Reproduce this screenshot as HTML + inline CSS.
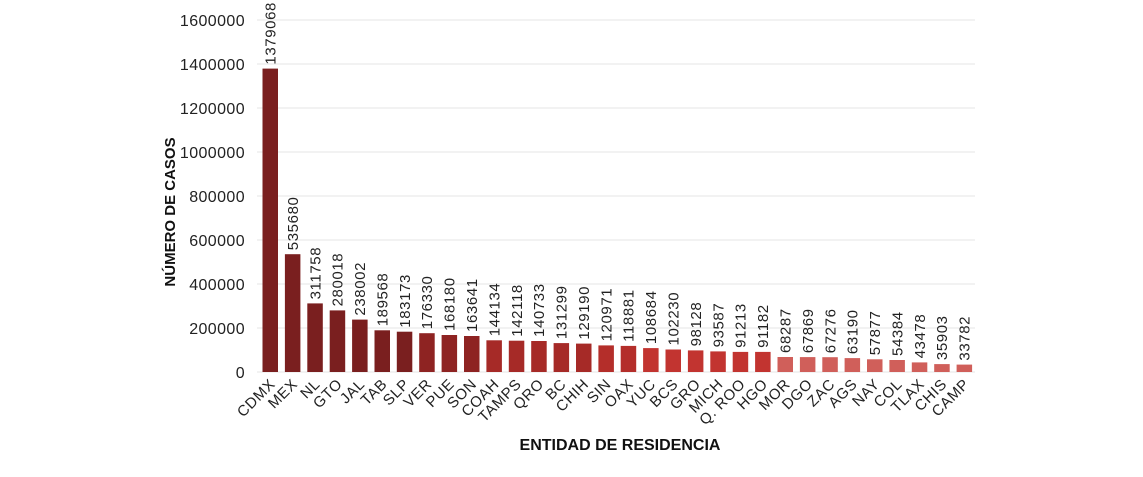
<!DOCTYPE html><html><head><style>body{margin:0;background:#fff}.yt text{letter-spacing:0.4px}.vl text{letter-spacing:0.6px}</style></head><body>
<svg width="1143" height="472" xmlns="http://www.w3.org/2000/svg" font-family="Liberation Sans, sans-serif">
<g stroke="#e6e6e6">
<line x1="257" x2="975" y1="372" y2="372"/><line x1="257" x2="975" y1="328" y2="328"/><line x1="257" x2="975" y1="284" y2="284"/><line x1="257" x2="975" y1="240" y2="240"/><line x1="257" x2="975" y1="196" y2="196"/><line x1="257" x2="975" y1="152" y2="152"/><line x1="257" x2="975" y1="108" y2="108"/><line x1="257" x2="975" y1="64" y2="64"/><line x1="257" x2="975" y1="20" y2="20"/>
</g>
<g class="yt" font-size="16" fill="#222" text-anchor="end">
<text x="245" y="378">0</text><text x="245" y="334">200000</text><text x="245" y="290">400000</text><text x="245" y="246">600000</text><text x="245" y="202">800000</text><text x="245" y="158">1000000</text><text x="245" y="114">1200000</text><text x="245" y="70">1400000</text><text x="245" y="26">1600000</text>
</g>
<g>
<rect x="262.5" y="68.6" width="15.5" height="303.4" fill="#7a1f1f"/>
<rect x="284.9" y="254.2" width="15.5" height="117.8" fill="#7a1f1f"/>
<rect x="307.3" y="303.4" width="15.5" height="68.6" fill="#7a1f1f"/>
<rect x="329.7" y="310.4" width="15.5" height="61.6" fill="#7a1f1f"/>
<rect x="352.1" y="319.6" width="15.5" height="52.4" fill="#7a1f1f"/>
<rect x="374.5" y="330.3" width="15.5" height="41.7" fill="#7a1f1f"/>
<rect x="396.8" y="331.7" width="15.5" height="40.3" fill="#7a1f1f"/>
<rect x="419.2" y="333.2" width="15.5" height="38.8" fill="#8e2322"/>
<rect x="441.6" y="335.0" width="15.5" height="37.0" fill="#8e2322"/>
<rect x="464.0" y="336.0" width="15.5" height="36.0" fill="#8e2322"/>
<rect x="486.4" y="340.3" width="15.5" height="31.7" fill="#a62a27"/>
<rect x="508.8" y="340.7" width="15.5" height="31.3" fill="#a62a27"/>
<rect x="531.2" y="341.0" width="15.5" height="31.0" fill="#a62a27"/>
<rect x="553.6" y="343.1" width="15.5" height="28.9" fill="#a62a27"/>
<rect x="576.0" y="343.6" width="15.5" height="28.4" fill="#a62a27"/>
<rect x="598.4" y="345.4" width="15.5" height="26.6" fill="#b42e2a"/>
<rect x="620.7" y="345.9" width="15.5" height="26.1" fill="#b42e2a"/>
<rect x="643.1" y="348.1" width="15.5" height="23.9" fill="#c23430"/>
<rect x="665.5" y="349.5" width="15.5" height="22.5" fill="#c23430"/>
<rect x="687.9" y="350.4" width="15.5" height="21.6" fill="#c23430"/>
<rect x="710.3" y="351.4" width="15.5" height="20.6" fill="#c23430"/>
<rect x="732.7" y="351.9" width="15.5" height="20.1" fill="#c23430"/>
<rect x="755.1" y="351.9" width="15.5" height="20.1" fill="#c23430"/>
<rect x="777.5" y="357.0" width="15.5" height="15.0" fill="#d05f5a"/>
<rect x="799.9" y="357.1" width="15.5" height="14.9" fill="#d05f5a"/>
<rect x="822.3" y="357.2" width="15.5" height="14.8" fill="#d05f5a"/>
<rect x="844.6" y="358.1" width="15.5" height="13.9" fill="#d05f5a"/>
<rect x="867.0" y="359.3" width="15.5" height="12.7" fill="#d05f5a"/>
<rect x="889.4" y="360.0" width="15.5" height="12.0" fill="#d05f5a"/>
<rect x="911.8" y="362.4" width="15.5" height="9.6" fill="#d05f5a"/>
<rect x="934.2" y="364.1" width="15.5" height="7.9" fill="#d05f5a"/>
<rect x="956.6" y="364.6" width="15.5" height="7.4" fill="#d05f5a"/>
</g>
<g class="vl" font-size="15" fill="#222">
<text transform="translate(275.5,64.6) rotate(-90)">1379068</text>
<text transform="translate(297.9,250.2) rotate(-90)">535680</text>
<text transform="translate(320.3,299.4) rotate(-90)">311758</text>
<text transform="translate(342.7,306.4) rotate(-90)">280018</text>
<text transform="translate(365.1,315.6) rotate(-90)">238002</text>
<text transform="translate(387.5,326.3) rotate(-90)">189568</text>
<text transform="translate(409.8,327.7) rotate(-90)">183173</text>
<text transform="translate(432.2,329.2) rotate(-90)">176330</text>
<text transform="translate(454.6,331) rotate(-90)">168180</text>
<text transform="translate(477,332) rotate(-90)">163641</text>
<text transform="translate(499.4,336.3) rotate(-90)">144134</text>
<text transform="translate(521.8,336.7) rotate(-90)">142118</text>
<text transform="translate(544.2,337) rotate(-90)">140733</text>
<text transform="translate(566.6,339.1) rotate(-90)">131299</text>
<text transform="translate(589,339.6) rotate(-90)">129190</text>
<text transform="translate(611.4,341.4) rotate(-90)">120971</text>
<text transform="translate(633.7,341.9) rotate(-90)">118881</text>
<text transform="translate(656.1,344.1) rotate(-90)">108684</text>
<text transform="translate(678.5,345.5) rotate(-90)">102230</text>
<text transform="translate(700.9,346.4) rotate(-90)">98128</text>
<text transform="translate(723.3,347.4) rotate(-90)">93587</text>
<text transform="translate(745.7,347.9) rotate(-90)">91213</text>
<text transform="translate(768.1,347.9) rotate(-90)">91182</text>
<text transform="translate(790.5,353) rotate(-90)">68287</text>
<text transform="translate(812.9,353.1) rotate(-90)">67869</text>
<text transform="translate(835.3,353.2) rotate(-90)">67276</text>
<text transform="translate(857.6,354.1) rotate(-90)">63190</text>
<text transform="translate(880,355.3) rotate(-90)">57877</text>
<text transform="translate(902.4,356) rotate(-90)">54384</text>
<text transform="translate(924.8,358.4) rotate(-90)">43478</text>
<text transform="translate(947.2,360.1) rotate(-90)">35903</text>
<text transform="translate(969.6,360.6) rotate(-90)">33782</text>
</g>
<g class="vl" font-size="15" fill="#222" text-anchor="end">
<text transform="translate(276,385) rotate(-45)">CDMX</text>
<text transform="translate(298.4,385) rotate(-45)">MEX</text>
<text transform="translate(320.8,385) rotate(-45)">NL</text>
<text transform="translate(343.2,385) rotate(-45)">GTO</text>
<text transform="translate(365.6,385) rotate(-45)">JAL</text>
<text transform="translate(388,385) rotate(-45)">TAB</text>
<text transform="translate(410.3,385) rotate(-45)">SLP</text>
<text transform="translate(432.7,385) rotate(-45)">VER</text>
<text transform="translate(455.1,385) rotate(-45)">PUE</text>
<text transform="translate(477.5,385) rotate(-45)">SON</text>
<text transform="translate(499.9,385) rotate(-45)">COAH</text>
<text transform="translate(522.3,385) rotate(-45)">TAMPS</text>
<text transform="translate(544.7,385) rotate(-45)">QRO</text>
<text transform="translate(567.1,385) rotate(-45)">BC</text>
<text transform="translate(589.5,385) rotate(-45)">CHIH</text>
<text transform="translate(611.9,385) rotate(-45)">SIN</text>
<text transform="translate(634.2,385) rotate(-45)">OAX</text>
<text transform="translate(656.6,385) rotate(-45)">YUC</text>
<text transform="translate(679,385) rotate(-45)">BCS</text>
<text transform="translate(701.4,385) rotate(-45)">GRO</text>
<text transform="translate(723.8,385) rotate(-45)">MICH</text>
<text transform="translate(746.2,385) rotate(-45)">Q. ROO</text>
<text transform="translate(768.6,385) rotate(-45)">HGO</text>
<text transform="translate(791,385) rotate(-45)">MOR</text>
<text transform="translate(813.4,385) rotate(-45)">DGO</text>
<text transform="translate(835.8,385) rotate(-45)">ZAC</text>
<text transform="translate(858.1,385) rotate(-45)">AGS</text>
<text transform="translate(880.5,385) rotate(-45)">NAY</text>
<text transform="translate(902.9,385) rotate(-45)">COL</text>
<text transform="translate(925.3,385) rotate(-45)">TLAX</text>
<text transform="translate(947.7,385) rotate(-45)">CHIS</text>
<text transform="translate(970.1,385) rotate(-45)">CAMP</text>
</g>
<text transform="translate(175,212) rotate(-90)" text-anchor="middle" font-size="15" font-weight="bold" fill="#111">NÚMERO DE CASOS</text>
<text x="620" y="450" text-anchor="middle" font-size="16" font-weight="bold" fill="#111">ENTIDAD DE RESIDENCIA</text>
</svg></body></html>
